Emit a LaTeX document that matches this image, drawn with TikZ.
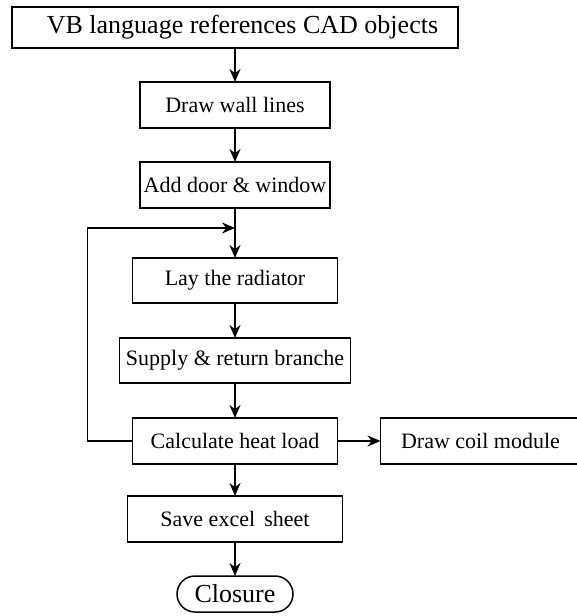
\documentclass[tikz,border=0pt]{standalone}
\usepackage{fontspec}
\setmainfont{Liberation Serif}
\usepackage{tikz}
\usetikzlibrary{positioning}
\usetikzlibrary{calc}
\usetikzlibrary{arrows.meta}
\tikzset{
    node distance=34pt, % Gap between two boxes of the column
    stepbox/.style={ % Sets the properties for each process box
        draw,
        line width=1.5pt,
        minimum height=46pt,
        inner sep=0pt,
        outer sep=0pt,
        font=\fontsize{22}{26}\selectfont
    },
    endbox/.style={ % Rounded terminal box
        draw,
        line width=1.5pt,
        rounded corners=18pt,
        inner sep=0pt,
        outer sep=0pt,
        minimum width=116pt,
        minimum height=36pt,
        font=\fontsize{26}{30}\selectfont
    },
    flow/.style={ % Sets the properties for each connector
        draw,
        ->,>={Stealth[length=13pt,width=11pt]},
        line width=1.5pt
    }
}

\begin{document}
\begin{tikzpicture}
            \useasboundingbox (0pt,0pt) rectangle (576pt,-616pt);

            \node[stepbox, minimum width=446pt, minimum height=41pt, font=\fontsize{26}{30}\selectfont] (refs) at (235pt,-27.5pt) {\hspace*{15pt}VB language references CAD objects};
            \node[stepbox, minimum width=190pt, below=of refs] (wall) {Draw wall lines};
            \node[stepbox, minimum width=190pt, below=of wall] (door) {Add door \& window};
            \node[stepbox, minimum width=205pt, minimum height=45pt, below=50pt of door] (radiator) {Lay the radiator};
            \node[stepbox, minimum width=231pt, minimum height=45pt, below=35pt of radiator] (branch) {Supply \& return branche};
            \node[stepbox, minimum width=205pt, below=35pt of branch] (heat) {Calculate heat load};
            \node[stepbox, minimum width=200pt, right=43pt of heat] (coil) {Draw coil module};
            \node[stepbox, minimum width=215pt, below=32pt of heat] (excel) {Save excel\, sheet};
            \node[endbox, below=of excel] (closure) {Closure};

            \coordinate (join) at ($(door.south)!0.4!(radiator.north)$);

            \draw[flow] (refs) -- (wall);
            \draw[flow] (wall) -- (door);
            \draw[flow] (door) -- (radiator);
            \draw[flow] (radiator) -- (branch);
            \draw[flow] (branch) -- (heat);
            \draw[flow] (heat) -- (coil);
            \draw[flow] (heat) -- (excel);
            \draw[flow] (excel) -- (closure);

            % loop back above the radiator
            \draw[flow] (heat.west) -- ++(-45pt,0) |- (join);
        \end{tikzpicture}
\end{document}
